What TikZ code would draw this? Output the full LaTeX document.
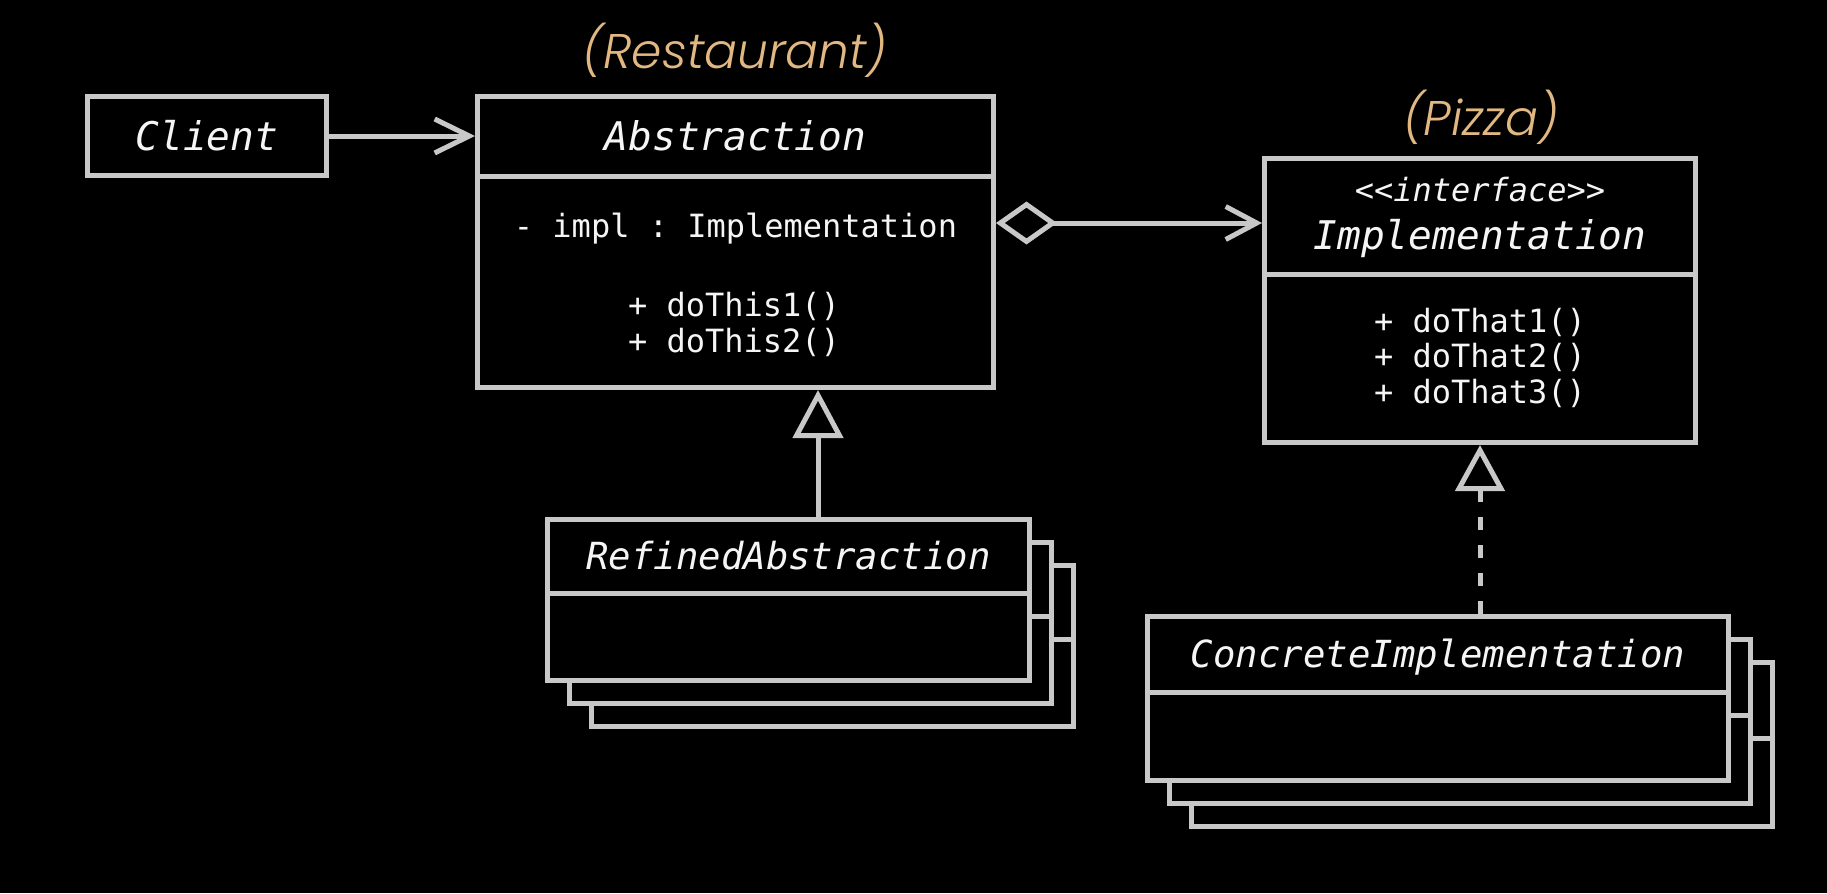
\documentclass[tikz,border=0pt]{standalone}
\usepackage{fontspec}
\setmonofont{DejaVu Sans Mono}
\newfontfamily\goldfont{Poppins}[ItalicFont={Poppins Light Italic}]
\usetikzlibrary{arrows.meta}
\definecolor{bg}{RGB}{0,0,0}
\definecolor{linec}{RGB}{200,200,200}
\definecolor{textc}{RGB}{245,245,245}
\definecolor{goldc}{RGB}{226,184,130}
\newcommand{\titlefont}{\ttfamily\itshape\fontsize{29.6pt}{30pt}\selectfont}
\newcommand{\subtitlefont}{\ttfamily\itshape\fontsize{28pt}{29pt}\selectfont}
\newcommand{\memberfont}{\ttfamily\upshape\fontsize{24pt}{25pt}\selectfont}
\newcommand{\stereofont}{\ttfamily\itshape\fontsize{24pt}{25pt}\selectfont}
\newcommand{\notefont}{\goldfont\itshape\fontsize{36.5pt}{37pt}\selectfont}
\begin{document}
\begin{tikzpicture}[x=0.75pt,y=-0.75pt,
  classbox/.style={draw=linec, line width=3.75pt, fill=bg, rectangle, inner sep=0pt},
  conn/.style={draw=linec, line width=3.75pt},
  lbl/.style={inner sep=0pt, anchor=base, text=textc},
  note/.style={inner sep=0pt, anchor=base, text=goldc, font=\notefont}]
\fill[bg] (0,0) rectangle (1827,893);
\useasboundingbox (0,0) rectangle (1827,893);

% Client
\node[classbox, minimum width=179.25pt, minimum height=59.25pt] (client) at (207,136) {};
\node[lbl, font=\titlefont] (clientname) at (207,150) {Client};

% Abstraction
\node[classbox, minimum width=387pt, minimum height=218.25pt] (abs) at (735.5,242) {};
\coordinate (absdiv) at (0,176);
\draw[conn] (abs.west |- absdiv) -- (abs.east |- absdiv);
\node[lbl, font=\titlefont] (absname) at (735.5,150) {Abstraction};
\node[lbl, font=\memberfont] (absfield) at (735.5,237) {- impl : Implementation};
\node[lbl, font=\memberfont] (absm1) at (734,316) {+ doThis1()};
\node[lbl, font=\memberfont] (absm2) at (734,352) {+ doThis2()};
\node[note] (restaurant) at (735,68) {(Restaurant)};

% Implementation
\node[classbox, minimum width=323.25pt, minimum height=213pt] (impl) at (1480,300.5) {};
\coordinate (impldiv) at (0,274);
\draw[conn] (impl.west |- impldiv) -- (impl.east |- impldiv);
\node[lbl, font=\stereofont] (implstereo) at (1480,201) {\textless\textless interface\textgreater\textgreater};
\node[lbl, font=\titlefont] (implname) at (1480,249) {Implementation};
\node[lbl, font=\memberfont] (implm1) at (1480,332) {+ doThat1()};
\node[lbl, font=\memberfont] (implm2) at (1480,367.5) {+ doThat2()};
\node[lbl, font=\memberfont] (implm3) at (1480,403) {+ doThat3()};
\node[note] (pizza) at (1481,135) {(Pizza)};

% RefinedAbstraction (stacked)
\node[classbox, minimum width=361.5pt, minimum height=120.75pt] (ra3) at (832.5,646) {};
\coordinate (ra3div) at (0,639);
\draw[conn] (ra3.west |- ra3div) -- (ra3.east |- ra3div);
\node[classbox, minimum width=361.5pt, minimum height=120.75pt] (ra2) at (810.5,623) {};
\coordinate (ra2div) at (0,616);
\draw[conn] (ra2.west |- ra2div) -- (ra2.east |- ra2div);
\node[classbox, minimum width=361.5pt, minimum height=120.75pt] (ra) at (788.5,600) {};
\coordinate (radiv) at (0,593);
\draw[conn] (ra.west |- radiv) -- (ra.east |- radiv);
\node[lbl, font=\subtitlefont] (raname) at (788.5,569) {RefinedAbstraction};

% ConcreteImplementation (stacked)
\node[classbox, minimum width=435.75pt, minimum height=123pt] (ci3) at (1482,744.5) {};
\coordinate (ci3div) at (0,738);
\draw[conn] (ci3.west |- ci3div) -- (ci3.east |- ci3div);
\node[classbox, minimum width=435.75pt, minimum height=123pt] (ci2) at (1460,721.5) {};
\coordinate (ci2div) at (0,715);
\draw[conn] (ci2.west |- ci2div) -- (ci2.east |- ci2div);
\node[classbox, minimum width=435.75pt, minimum height=123pt] (ci) at (1438,698.5) {};
\coordinate (cidiv) at (0,692);
\draw[conn] (ci.west |- cidiv) -- (ci.east |- cidiv);
\node[lbl, font=\subtitlefont] (ciname) at (1438,667) {ConcreteImplementation};

% Connectors
\draw[conn, -{Straight Barb[length=26pt,width=25.5pt]}] (client.east) -- (client.east -| abs.west);

\coordinate (aggy) at (0,223);
\draw[conn, {Diamond[open,length=45.75pt,width=32.25pt]}-{Straight Barb[length=23.25pt,width=24.75pt]}]
  (abs.east |- aggy) -- (impl.west |- aggy);

\coordinate (genx) at (818,0);
\draw[conn, -{Triangle[open,length=36pt,width=37.5pt]}] (ra.north -| genx) -- (abs.south -| genx);

\draw[conn, dash pattern=on 9.75pt off 11.25pt, -{Triangle[open,length=34.5pt,width=36.75pt]}]
  (ci.north -| impl.south) -- (impl.south);
\end{tikzpicture}
\end{document}
